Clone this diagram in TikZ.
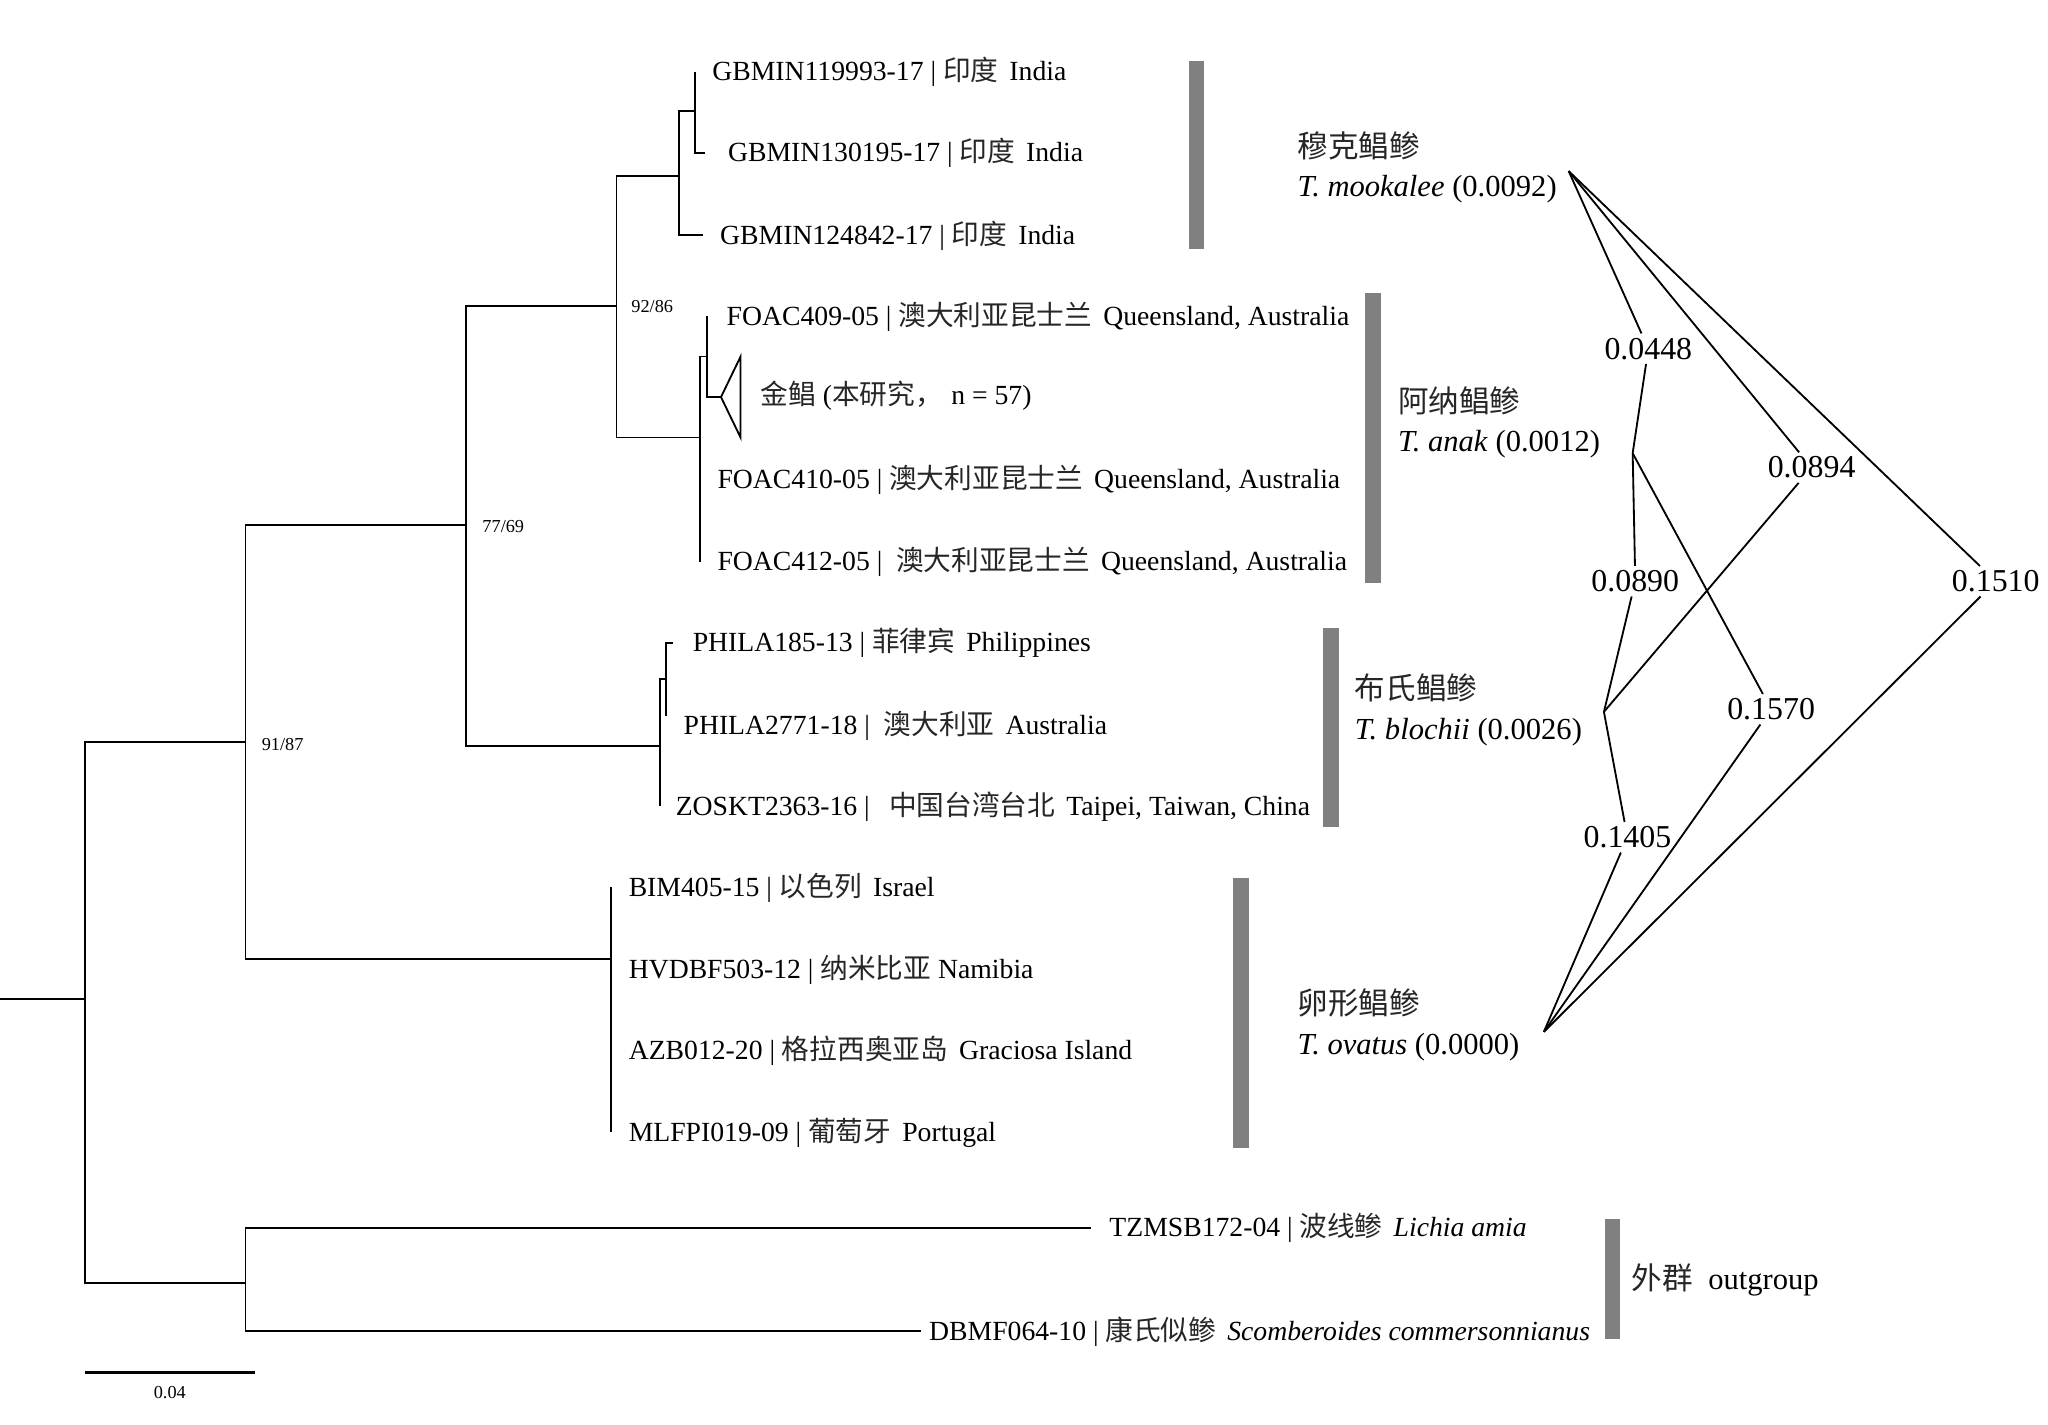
\documentclass[tikz,border=0pt]{standalone}
\usepackage{fontspec}
\setmainfont{Liberation Serif}
\newfontfamily\cjkfont{Noto Sans CJK SC}
\definecolor{barcol}{HTML}{808080}
\colorlet{cjkcol}{black!85}
\newcommand\cj[1]{{\cjkfont\color{cjkcol}#1}}
\begin{document}
\begin{tikzpicture}[x=0.5pt,y=-0.5pt,
  br/.style={line width=0.7pt},
  tiplab/.style={anchor=west, inner sep=0pt, text height=9pt, text depth=2pt, font=\fontsize{10.6pt}{12pt}\selectfont},
  boot/.style={anchor=west, inner sep=0pt, font=\fontsize{7pt}{8pt}\selectfont},
  sp/.style={anchor=west, inner sep=0pt, text height=10pt, text depth=2.5pt, font=\fontsize{11.7pt}{13pt}\selectfont},
  dist/.style={inner sep=1.5pt, font=\fontsize{12.2pt}{14pt}\selectfont},
  net/.style={line width=0.7pt},
  bar/.style={fill=barcol}
]
\useasboundingbox (0,0) rectangle (1568,1091);

% ---- tree coordinates
\coordinate (root0) at (0,765);
\coordinate (r) at (65,765);
\coordinate (n91) at (188,568);
\coordinate (nout) at (188,982);
\coordinate (n77) at (357,402);
\coordinate (nov) at (468,734);
\coordinate (n92) at (472,234);
\coordinate (nbl) at (505,571);
\coordinate (nin) at (520,135);
\coordinate (nin2) at (532,85);
\coordinate (tG1) at (532,55);
\coordinate (tG2) at (540,117);
\coordinate (tG3) at (538,180);
\coordinate (nan) at (536,335);
\coordinate (nan2) at (541,273);
\coordinate (tF1) at (541,242);
\coordinate (tri) at (552,304);
\coordinate (tF3) at (536,430);
\coordinate (nbl2) at (510,520);
\coordinate (tP1) at (515,492);
\coordinate (tP2) at (510,548);
\coordinate (tZ) at (505,617);
\coordinate (tB) at (468,679);
\coordinate (tM) at (468,867);
\coordinate (tT) at (835,940);
\coordinate (tD) at (705,1019);
\coordinate (sb1) at (65,1051);
\coordinate (sb2) at (195,1051);

% ---- branches
\draw[br] (root0) -- (r);
\draw[br] (r) |- (n91);
\draw[br] (r) |- (nout);
\draw[br] (n91) |- (n77);
\draw[br] (n91) |- (nov);
\draw[br] (n77) |- (n92);
\draw[br] (n77) |- (nbl);
\draw[br] (n92) |- (nin);
\draw[br] (n92) |- (nan);
\draw[br] (nin) |- (nin2);
\draw[br] (nin) |- (tG3);
\draw[br] (nin2) -- (tG1);
\draw[br] (nin2) |- (tG2);
\draw[br] (nan) |- (nan2);
\draw[br] (nan) -- (tF3);
\draw[br] (nan2) -- (tF1);
\draw[br] (nan2) |- (tri);
\draw[br] (tri) -- (567,273) -- (567,335) -- cycle;
\draw[br] (nbl) |- (nbl2);
\draw[br] (nbl) -- (tZ);
\draw[br] (nbl2) |- (tP1);
\draw[br] (nbl2) -- (tP2);
\draw[br] (tB) -- (tM);
\draw[br] (nout) |- (tT);
\draw[br] (nout) |- (tD);
\draw[line width=1pt] (sb1) -- (sb2);
\node[font=\fontsize{7pt}{8pt}\selectfont] (sbl) at (130,1066) {0.04};

% ---- bootstrap
\node[boot] (b92) at (483,235) {92/86};
\node[boot] (b77) at (369,403) {77/69};
\node[boot] (b91) at (200,570) {91/87};

% ---- tip labels
\node[tiplab] (lG1) at (545,55) {GBMIN119993-17 | \cj{印度}\hspace{0.4em}India};
\node[tiplab] (lG2) at (557,117) {GBMIN130195-17 | \cj{印度}\hspace{0.4em}India};
\node[tiplab] (lG3) at (551,180) {GBMIN124842-17 | \cj{印度}\hspace{0.4em}India};
\node[tiplab] (lF1) at (556,242) {FOAC409-05 | \cj{澳大利亚昆士兰}\hspace{0.4em}Queensland, Australia};
\node[tiplab] (lJ) at (582,303) {\cj{金鲳} (\cj{本研究，}\hspace{0.3em}n = 57)};
\node[tiplab] (lF2) at (549,367) {FOAC410-05 | \cj{澳大利亚昆士兰}\hspace{0.4em}Queensland, Australia};
\node[tiplab] (lF3) at (549,430) {FOAC412-05 |\hspace{0.5em}\cj{澳大利亚昆士兰}\hspace{0.4em}Queensland, Australia};
\node[tiplab] (lP1) at (530,492) {PHILA185-13 | \cj{菲律宾}\hspace{0.4em}Philippines};
\node[tiplab] (lP2) at (523,555) {PHILA2771-18 |\hspace{0.5em}\cj{澳大利亚}\hspace{0.4em}Australia};
\node[tiplab] (lZ) at (517,617) {ZOSKT2363-16 |\hspace{0.7em}\cj{中国台湾台北}\hspace{0.4em}Taipei, Taiwan, China};
\node[tiplab] (lB) at (481,679) {BIM405-15 | \cj{以色列}\hspace{0.4em}Israel};
\node[tiplab] (lH) at (481,742) {HVDBF503-12 | \cj{纳米比亚} Namibia};
\node[tiplab] (lA) at (481,804) {AZB012-20 | \cj{格拉西奥亚岛}\hspace{0.4em}Graciosa Island};
\node[tiplab] (lM) at (481,867) {MLFPI019-09 | \cj{葡萄牙}\hspace{0.4em}Portugal};
\node[tiplab] (lT) at (849,940) {TZMSB172-04 | \cj{波线鲹}\hspace{0.4em}\textit{Lichia amia}};
\node[tiplab] (lD) at (711,1019) {DBMF064-10 | \cj{康氏似鲹}\hspace{0.4em}\textit{Scomberoides commersonnianus}};

% ---- bars
\fill[bar] (910,47) rectangle (922,191);
\fill[bar] (1045,224) rectangle (1057,446);
\fill[bar] (1013,481) rectangle (1025,633);
\fill[bar] (944,672) rectangle (956,879);
\fill[bar] (1229,933) rectangle (1240,1025);

% ---- species labels
\node[sp] (s1a) at (993,113) {\cj{穆克鲳鲹}};
\node[sp] (s1b) at (993,143) {\textit{T. mookalee} (0.0092)};
\node[sp] (s2a) at (1070,308) {\cj{阿纳鲳鲹}};
\node[sp] (s2b) at (1070,338) {\textit{T. anak} (0.0012)};
\node[sp] (s3a) at (1037,528) {\cj{布氏鲳鲹}};
\node[sp] (s3b) at (1037,559) {\textit{T. blochii} (0.0026)};
\node[sp] (s4a) at (993,769) {\cj{卵形鲳鲹}};
\node[sp] (s4b) at (993,800) {\textit{T. ovatus} (0.0000)};
\node[sp] (og) at (1249,980) {\cj{外群}\hspace{0.5em}outgroup};

% ---- distance network
\coordinate (M) at (1201,131);
\coordinate (A) at (1250,347);
\coordinate (B) at (1228,545);
\coordinate (O) at (1182,790);
\node[dist] (d0448) at (1262,267) {0.0448};
\node[dist] (d0894) at (1387,358) {0.0894};
\node[dist] (d0890) at (1252,445) {0.0890};
\node[dist] (d1510) at (1528,445) {0.1510};
\node[dist] (d1570) at (1356,543) {0.1570};
\node[dist] (d1405) at (1246,641) {0.1405};
\draw[net] (M) -- (d0448); \draw[net] (d0448) -- (A);
\draw[net] (M) -- (d0894); \draw[net] (d0894) -- (B);
\draw[net] (M) -- (d1510); \draw[net] (d1510) -- (O);
\draw[net] (A) -- (d0890); \draw[net] (d0890) -- (B);
\draw[net] (A) -- (d1570); \draw[net] (d1570) -- (O);
\draw[net] (B) -- (d1405); \draw[net] (d1405) -- (O);
\end{tikzpicture}
\end{document}
